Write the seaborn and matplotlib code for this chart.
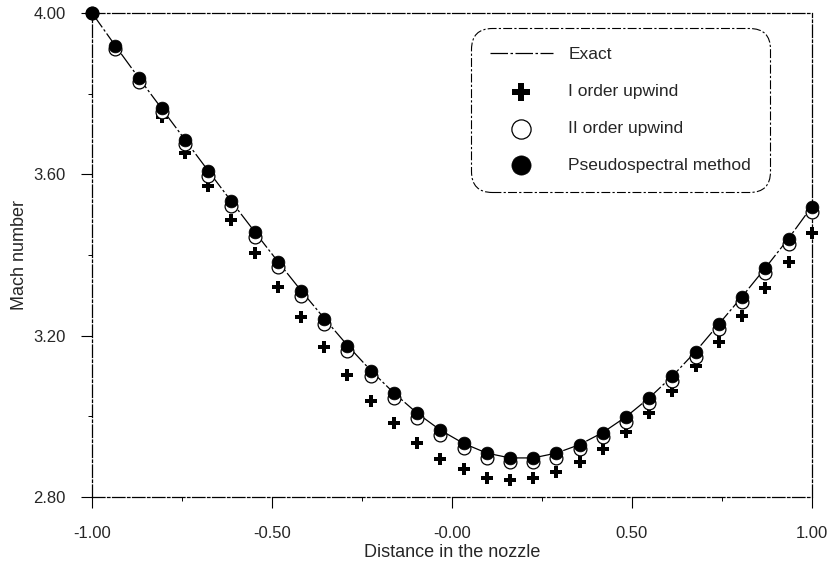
import matplotlib
matplotlib.use("Agg")
import matplotlib.pyplot as plt
import numpy as np
import pandas as pd
import seaborn as sns

# grid points in the nozzle (32 equally spaced stations)
distance = np.linspace(-1.0, 1.0, 32)

exact_mach = [4.000, 3.919, 3.840, 3.763, 3.686, 3.609, 3.533, 3.458, 3.384, 3.312,
              3.243, 3.176, 3.114, 3.058, 3.008, 2.966, 2.933, 2.909, 2.897, 2.897,
              2.909, 2.930, 2.960, 2.999, 3.046, 3.100, 3.161, 3.229, 3.297, 3.368,
              3.441, 3.520]
first_order = [4.000, 3.912, 3.827, 3.743, 3.654, 3.572, 3.487, 3.405, 3.321, 3.247,
               3.172, 3.103, 3.038, 2.984, 2.934, 2.894, 2.869, 2.847, 2.842, 2.847,
               2.862, 2.887, 2.919, 2.961, 3.008, 3.063, 3.125, 3.185, 3.249, 3.319,
               3.383, 3.455]
second_order = [4.000, 3.910, 3.830, 3.754, 3.675, 3.597, 3.521, 3.446, 3.371, 3.299,
                3.230, 3.163, 3.101, 3.046, 2.996, 2.954, 2.922, 2.898, 2.886, 2.886,
                2.898, 2.918, 2.948, 2.987, 3.034, 3.088, 3.148, 3.217, 3.284, 3.356,
                3.428, 3.506]
pseudospectral = [4.000, 3.919, 3.840, 3.765, 3.686, 3.609, 3.533, 3.458, 3.383, 3.311,
                  3.242, 3.175, 3.113, 3.058, 3.008, 2.966, 2.934, 2.909, 2.897, 2.897,
                  2.909, 2.930, 2.960, 2.999, 3.046, 3.100, 3.160, 3.229, 3.296, 3.368,
                  3.440, 3.520]

xticks = [-1.0, -0.5, 0.0, 0.5, 1.0]
xtick_labels = ["-1.00", "-0.50", "-0.00", "0.50", "1.00"]
yticks = [2.8, 3.2, 3.6, 4.0]
ytick_labels = ["2.80", "3.20", "3.60", "4.00"]

df = pd.DataFrame({"x": distance, "exact": exact_mach, "first": first_order,
                   "second": second_order, "pseudo": pseudospectral})

sns.set_style("ticks")
plt.rcParams["font.family"] = ["Liberation Sans", "DejaVu Sans"]

fig, ax = plt.subplots(figsize=(8.3, 5.7), dpi=100)
fig.subplots_adjust(left=0.111, right=0.978, bottom=0.128, top=0.977)

sns.lineplot(data=df, x="x", y="exact", ax=ax, color="black", lw=0.9,
             linestyle=(0, (14, 2, 2, 2)), label="Exact", zorder=2)
sns.scatterplot(data=df, x="x", y="first", ax=ax, marker="P", s=70, color="black",
                edgecolor="black", linewidth=0, label="I order upwind", zorder=3,
                clip_on=False)
sns.scatterplot(data=df, x="x", y="second", ax=ax, marker="o", s=85, facecolor="white",
                edgecolor="black", linewidth=0.9, label="II order upwind", zorder=4,
                clip_on=False)
sns.scatterplot(data=df, x="x", y="pseudo", ax=ax, marker="o", s=85, color="black",
                edgecolor="black", linewidth=0.5, label="Pseudospectral method",
                zorder=5, clip_on=False)

ax.set_xlim(-1.0, 1.0)
ax.set_ylim(2.8, 4.0)
ax.set_xticks(xticks)
ax.set_xticklabels(xtick_labels)
ax.set_yticks(yticks)
ax.set_yticklabels(ytick_labels)
ax.set_xticks([-0.75, -0.25, 0.25, 0.75], minor=True)
ax.set_yticks([3.0, 3.4, 3.8], minor=True)
ax.tick_params(axis="both", which="major", length=8, width=0.8, labelsize=12,
               color="black")
ax.tick_params(axis="x", which="major", pad=13)
ax.tick_params(axis="y", which="major", pad=11)
ax.tick_params(axis="both", which="minor", length=3, width=0.7, color="black")

for sp in ax.spines.values():
    sp.set_visible(True)
    sp.set_linestyle((0, (10, 2, 2, 2)))
    sp.set_linewidth(0.9)
    sp.set_color("black")

ax.set_xlabel("Distance in the nozzle", fontsize=13, labelpad=2)
ax.set_ylabel("Mach number", fontsize=13, labelpad=4)

handles, labels = ax.get_legend_handles_labels()
leg = ax.legend(handles, labels, loc="upper right", bbox_to_anchor=(0.942, 0.969),
                borderaxespad=0, fontsize=12.5, handlelength=3.6, handletextpad=0.9,
                labelspacing=1.25, borderpad=1.1, markerscale=1.5, fancybox=True,
                framealpha=1, edgecolor="black")
leg.get_frame().set_linestyle((0, (8, 2, 2, 2)))
leg.get_frame().set_linewidth(0.8)
leg.get_frame().set_boxstyle("round", pad=0.0, rounding_size=1.2)

plt.savefig("out.png", dpi=100)
